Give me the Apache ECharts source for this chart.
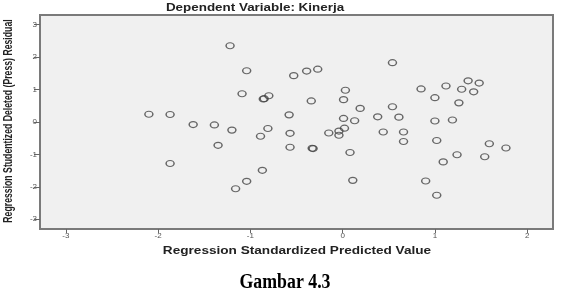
<!DOCTYPE html>
<html>
<head>
<meta charset="utf-8">
<script src="https://cdn.jsdelivr.net/npm/echarts@6/dist/echarts.min.js"></script>
<style>
    html, body { margin: 0; padding: 0; background: #fff; }
    #main { width: 563px; height: 295px; }
</style>
</head>
<body>
<div id="main"></div>
<script>
// nilai prediksi terstandar (sumbu x)
var predicted = [
    -1.22, -1.04, -0.53, -1.09, -0.80, -0.86, -0.85, -2.10, -1.87, -0.58,
    -0.39, -0.27, 0.54, 0.03, -0.34, 0.01, 0.19, 0.54, 0.85, 1.12,
    1.36, 1.48, 1.29, 1.42, 1.00, 1.26, 0.01, 0.13, 0.38, 0.61,
    1.00, 1.19, -1.62, -1.39, -1.20, -0.81, -0.89, -0.57, -1.35, -0.57,
    -1.87, -0.87, -1.04, -1.16, -0.15, -0.04, 0.02, -0.04, 0.44, 0.66,
    0.66, 1.02, -0.33, -0.32, 0.08, 1.59, 1.77, 1.24, 1.54, 1.09,
    0.11, 0.90, 1.02
];
// studentized deleted residual (sumbu y)
var residual = [
    2.35, 1.58, 1.43, 0.87, 0.81, 0.71, 0.72, 0.24, 0.23, 0.22,
    1.57, 1.63, 1.83, 0.98, 0.65, 0.69, 0.42, 0.47, 1.02, 1.11,
    1.27, 1.20, 1.01, 0.93, 0.75, 0.59, 0.11, 0.04, 0.16, 0.15,
    0.03, 0.06, -0.08, -0.09, -0.25, -0.20, -0.44, -0.35, -0.72, -0.78,
    -1.28, -1.49, -1.83, -2.06, -0.34, -0.28, -0.19, -0.41, -0.31, -0.31,
    -0.60, -0.57, -0.81, -0.82, -0.94, -0.67, -0.80, -1.01, -1.07, -1.23,
    -1.80, -1.82, -2.26
];
var xTicks = [-3, -2, -1, 0, 1, 2];
var yTicks = [-3, -2, -1, 0, 1, 2, 3];

var myChart = echarts.init(document.getElementById('main'));

var points = predicted.map(function (v, i) { return [v, residual[i]]; });

var option = {
    animation: false,
    backgroundColor: '#fff',
    grid: {
        left: 40, right: 10, top: 15, bottom: 66,
        show: true,
        backgroundColor: '#f0f0f0',
        borderColor: '#7a7a7a',
        borderWidth: 2
    },
    xAxis: {
        type: 'value',
        min: -3.28, max: 2.28,
        splitLine: { show: false },
        axisLine: { show: false, onZero: false },
        axisTick: { show: true, inside: false, length: 4, customValues: xTicks,
            lineStyle: { color: '#666', width: 1 } },
        axisLabel: { customValues: xTicks, fontSize: 8, color: '#555', margin: 3,
            fontFamily: 'Liberation Sans' }
    },
    yAxis: {
        type: 'value',
        min: -3.3, max: 3.3,
        splitLine: { show: false },
        axisLine: { show: false, onZero: false },
        axisTick: { show: true, inside: false, length: 6, customValues: yTicks,
            lineStyle: { color: '#666', width: 1 } },
        axisLabel: { customValues: yTicks, fontSize: 8, color: '#555', margin: 3,
            fontFamily: 'Liberation Sans' }
    },
    graphic: [
        {
            type: 'text', x: 255, y: 8, scaleX: 1.22,
            style: { text: 'Dependent Variable: Kinerja', fontSize: 11, fontWeight: 'bold',
                fontFamily: 'Liberation Sans', fill: '#222',
                align: 'center', verticalAlign: 'middle' }
        },
        {
            type: 'text', x: 9, y: 121, rotation: Math.PI / 2, scaleX: 0.79, scaleY: 1.1,
            style: { text: 'Regression Studentized Deleted (Press) Residual', fontSize: 11,
                fontWeight: 'bold', fontFamily: 'Liberation Sans', fill: '#222',
                align: 'center', verticalAlign: 'middle' }
        },
        {
            type: 'text', x: 297, y: 251, scaleX: 1.36,
            style: { text: 'Regression Standardized Predicted Value', fontSize: 10,
                fontWeight: 'bold', fontFamily: 'Liberation Sans', fill: '#222',
                align: 'center', verticalAlign: 'middle' }
        },
        {
            type: 'text', x: 285, y: 283, scaleX: 0.89,
            style: { text: 'Gambar 4.3', fontSize: 20, fontWeight: 'bold',
                fontFamily: 'Liberation Serif', fill: '#000',
                align: 'center', verticalAlign: 'middle' }
        }
    ],
    series: [{
        type: 'scatter',
        data: points,
        symbol: 'circle',
        symbolSize: [8, 6],
        itemStyle: { color: 'rgba(0,0,0,0)', borderColor: '#444', borderWidth: 1.3 }
    }]
};

myChart.setOption(option);
</script>
</body>
</html>
